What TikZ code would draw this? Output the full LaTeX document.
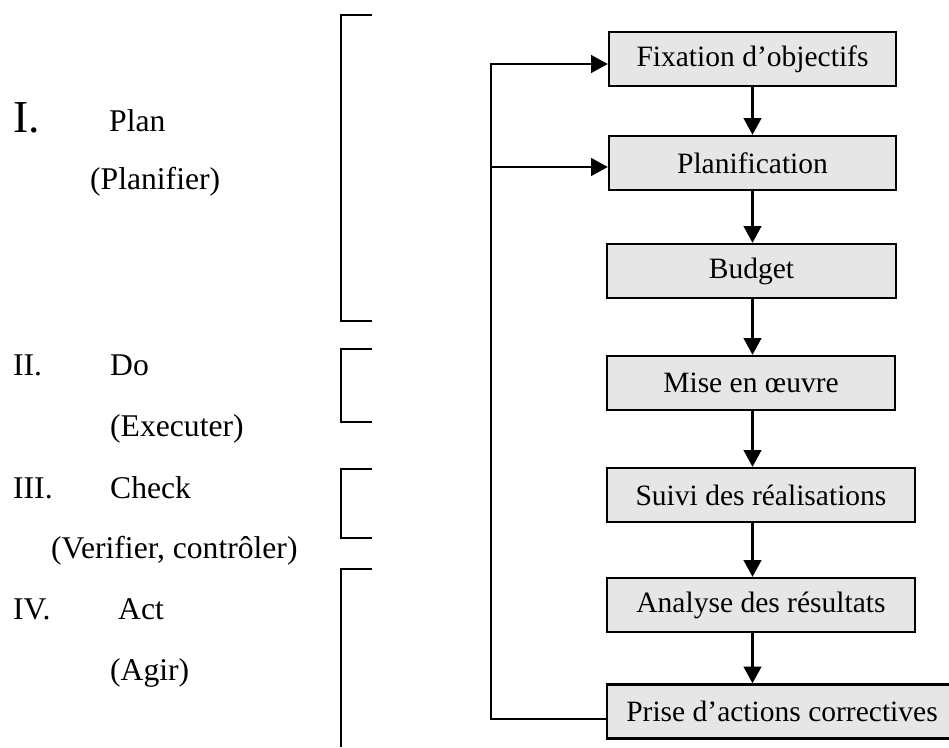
\documentclass[tikz,border=0pt]{standalone}
\usepackage{fontspec}
\setmainfont{Liberation Serif}
\usetikzlibrary{arrows.meta, calc}
\definecolor{grisboite}{RGB}{230,230,230}

\begin{document}
\begin{tikzpicture}[x = 0.02cm, y = -0.02cm, line width = 1.35pt,
    boite/.style = {draw, fill = grisboite, minimum height = 1.08cm, inner sep = 0pt, font = \fontsize{16.8}{20}\selectfont},
    etiq/.style = {anchor = base west, inner sep = 0pt, font = \fontsize{18}{22}\selectfont},
    fleche/.style = {-{Triangle[length = 9.5pt, width = 10pt]}}]
    \useasboundingbox (0,0) rectangle (949,747);
    % Phases
    \node[etiq, font = \fontsize{26}{30}\selectfont] (numI) at (12,132) {I.};
    \node[etiq] (titI) at (108,131) {Plan};
    \node[etiq] (sousI) at (89,189) {(Planifier)};
    \node[etiq] (numII) at (12,375) {II.};
    \node[etiq] (titII) at (109,375) {Do};
    \node[etiq] (sousII) at (109,436) {(Executer)};
    \node[etiq] (numIII) at (12,498) {III.};
    \node[etiq] (titIII) at (109,498) {Check};
    \node[etiq] (sousIII) at (50,558) {(Verifier, contrôler)};
    \node[etiq] (numIV) at (12,619) {IV.};
    \node[etiq] (titIV) at (117,619) {Act};
    \node[etiq] (sousIV) at (109,680) {(Agir)};
    % Crochets
    \foreach \haut/\bas in {15/321, 349/422, 469/538}
        \draw (372,\haut) -- (341,\haut) -- (341,\bas) -- (372,\bas);
    \draw (372,569) -- (341,569) -- (341,747);
    % Etapes
    \node[boite, minimum width = 5.74cm] (fix) at (752.5,59) {Fixation d’objectifs};
    \node[boite, minimum width = 5.74cm] (plan) at (752.5,163) {Planification};
    \node[boite, minimum width = 5.78cm] (budget) at (751.5,271) {Budget};
    \node[boite, minimum width = 5.76cm] (mise) at (751,383) {Mise en œuvre};
    \node[boite, minimum width = 6.16cm] (suivi) at (761,495) {Suivi des réalisations};
    \node[boite, minimum width = 6.16cm] (analyse) at (761,605) {Analyse des résultats};
    \node[boite, minimum width = 7cm] (prise) at (782,711.5) {Prise d’actions correctives};
    \foreach \a/\b in {fix/plan, plan/budget, budget/mise, mise/suivi, suivi/analyse, analyse/prise}
        \draw[fleche] (\a.south -| fix.south) -- (\b.north -| fix.south);
    % Retour
    \coordinate (coin) at (491,719);
    \coordinate (fixA) at ($(fix.west)+(0,5)$);
    \coordinate (planA) at ($(plan.west)+(0,4)$);
    \draw[fleche] (prise.west |- coin) -- (coin) -- (coin |- fixA) -- (fixA);
    \draw[fleche] (coin |- planA) -- (planA);
\end{tikzpicture}
\end{document}
